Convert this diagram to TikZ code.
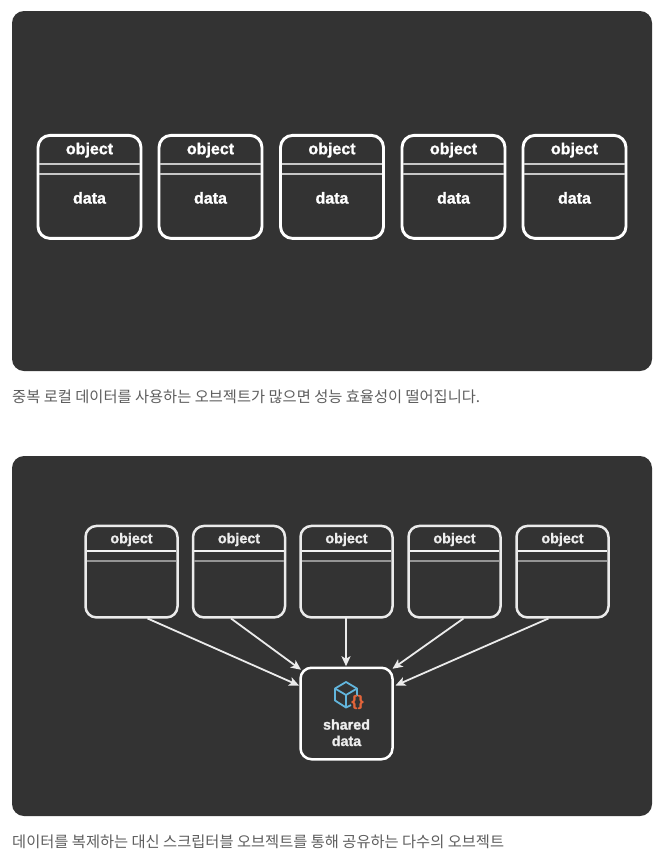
\documentclass[tikz,border=0pt]{standalone}
\usepackage{fontspec}
\setmainfont[BoldFeatures={FakeBold=1.2}]{Liberation Sans}
\newfontfamily\krfont{Noto Sans CJK KR}
\usetikzlibrary{arrows.meta,calc}
\definecolor{panelbg}{HTML}{333333}
\definecolor{captxt}{HTML}{5E5E5E}
\definecolor{cubeblue}{HTML}{62B5DC}
\definecolor{braceorange}{HTML}{E2643A}
\tikzset{
  panel/.style={fill=panelbg,draw=none,rounded corners=12pt,minimum width=640pt,minimum height=360pt,inner sep=0pt,outer sep=0pt},
  bigbox/.style={draw=white,line width=2.9pt,rounded corners=12pt,minimum width=103pt,minimum height=103pt,inner sep=0pt,outer sep=0pt},
  smallbox/.style={draw=white!92!black,line width=2.5pt,rounded corners=11pt,minimum width=92pt,minimum height=91.5pt,inner sep=0pt,outer sep=0pt},
  bigtxt/.style={text=white,font=\bfseries\fontsize{16}{18}\selectfont,inner sep=0pt,anchor=base},
  smalltxt/.style={text=white!93!black,font=\bfseries\fontsize{14.3}{17}\selectfont,inner sep=0pt,anchor=base},
  caption/.style={text=captxt,font=\krfont\fontsize{15.3}{18}\selectfont,inner sep=0pt,anchor=base west},
  sepA/.style={draw=white!78!black,line width=2pt,shorten <=1.3pt,shorten >=1.3pt},
  sepB/.style={draw=white!95!black,line width=1.4pt,shorten <=1.2pt,shorten >=1.2pt},
  sepC/.style={draw=white!58!black,line width=2.2pt,shorten <=1.2pt,shorten >=1.2pt},
  link/.style={draw=white!92!black,line width=1.8pt,-{Stealth[length=10pt,width=9pt,inset=2.5pt]}},
  cube/.style={draw=cubeblue,line width=1.8pt,line join=round,fill=none},
}
\begin{document}
\begin{tikzpicture}[x=1pt,y=-1pt]
\useasboundingbox[fill=white] (0,0) rectangle (664,860);
\node[panel] (panelA) at (332,191) {};
\node[panel] (panelB) at (332,636) {};
\node[caption] (capA) at (12,402) {중복 로컬 데이터를 사용하는 오브젝트가 많으면 성능 효율성이 떨어집니다.};
\node[caption] (capB) at (12,847) {데이터를 복제하는 대신 스크립터블 오브젝트를 통해 공유하는 다수의 오브젝트};

% upper row
\foreach \i/\cx in {1/89.5,2/210.5,3/332,4/453.5,5/574.5}{
  \node[bigbox] (a\i) at (\cx,186.9) {};
  \node[bigtxt] (aobj\i) at (\cx,154.2) {object};
  \node[bigtxt] (adat\i) at (\cx,203.6) {data};
  \draw[sepA] ($(a\i.west)+(0,-22.9)$) -- ($(a\i.east)+(0,-22.9)$);
  \draw[sepA] ($(a\i.west)+(0,-12.9)$) -- ($(a\i.east)+(0,-12.9)$);
}

% lower row
\foreach \i/\cx in {1/131.5,2/239,3/346.5,4/454.5,5/562.5}{
  \node[smallbox] (b\i) at (\cx,571.7) {};
  \node[smalltxt] (bobj\i) at (\cx,543.2) {object};
  \draw[sepB] ($(b\i.west)+(0,-20.7)$) -- ($(b\i.east)+(0,-20.7)$);
  \draw[sepC] ($(b\i.west)+(0,-10.7)$) -- ($(b\i.east)+(0,-10.7)$);
}

% shared data
\node[smallbox,draw=white] (sh) at (346.5,713.5) {};
\node[smalltxt] (shA) at (346.5,729.6) {shared};
\node[smalltxt] (shB) at (346.5,746) {data};

% connectors
\coordinate (s1) at ($(sh.west)+(-1.5,-28)$);
\coordinate (s2) at ($(sh.north west)+(0.5,2)$);
\coordinate (s3) at ($(sh.north)+(-0.5,-1.5)$);
\coordinate (s4) at ($(sh.north east)+(0,1)$);
\coordinate (s5) at ($(sh.east)+(3,-28)$);
\coordinate (t1) at ($(b1.south west)+(62,1)$);
\coordinate (t2) at ($(b2.south west)+(38,1)$);
\coordinate (t3) at ($(b3.south)+(-0.5,1)$);
\coordinate (t4) at ($(b4.south west)+(55,1)$);
\coordinate (t5) at ($(b5.south west)+(32,1)$);
\draw[link] (t1) -- (s1);
\draw[link] (t2) -- (s2);
\draw[link] (t3) -- (s3);
\draw[link] (t4) -- (s4);
\draw[link] (t5) -- (s5);

% icon
\draw[cube] (351,705) -- (346,707.5) -- (335,700.5) -- (335,688.5) -- (346,682) -- (357,688.5) -- (357,696);
\draw[cube] (335,688.5) -- (346,695) -- (357,688.5) (346,695) -- (346,707.5);
\node[text=braceorange,font=\bfseries\fontsize{15}{15}\selectfont,inner sep=0pt] (brace) at (357.5,702) {\{\kern0.5pt\}};
\end{tikzpicture}
\end{document}
